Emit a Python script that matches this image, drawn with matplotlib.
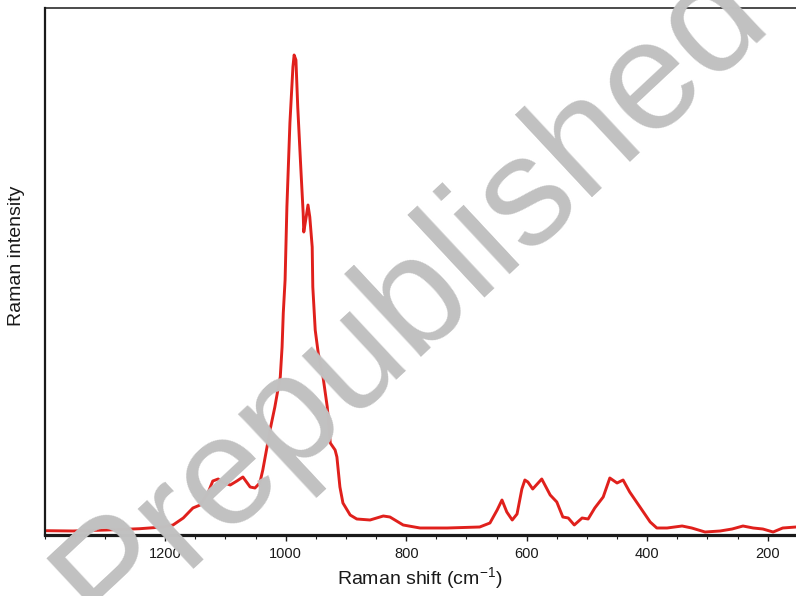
import matplotlib
matplotlib.use("Agg")
import matplotlib.pyplot as plt
from matplotlib.ticker import MultipleLocator

plt.rcParams['font.family'] = ['Liberation Sans', 'DejaVu Sans']
plt.rcParams['mathtext.default'] = 'regular'

# Raman shift (cm^-1) and intensity (arbitrary units)
wavenumber = [1397, 1353, 1297, 1242, 1204, 1187, 1170, 1154, 1142, 1129,
              1121, 1112, 1106, 1092, 1081, 1071, 1059, 1051, 1043, 1038,
              1031, 1026, 1018, 1013, 1009, 1006, 1004, 1001, 998, 993,
              988, 986, 983, 980, 975, 971, 970, 966, 963, 960,
              956, 955, 951, 946, 938, 931, 926, 918, 915, 910,
              905, 898, 893, 882, 860, 838, 827, 805, 777, 732,
              678, 661, 649, 641, 633, 624, 616, 608, 603, 598,
              590, 575, 561, 550, 540, 531, 521, 508, 498, 487,
              473, 462, 450, 440, 429, 412, 395, 384, 367, 342,
              326, 304, 279, 259, 241, 224, 208, 191, 175, 153]
intensity = [4.3, 4, 5, 6.3, 8, 10, 17, 27, 30, 42,
             54, 56, 53, 50, 54, 58, 48, 47, 52, 65,
             88, 105, 128, 145, 158, 188, 222, 255, 328, 412,
             468, 480, 475, 428, 368, 322, 303, 318, 330, 318,
             288, 248, 205, 182, 158, 128, 92, 85, 78, 48,
             32, 25, 20, 16, 15, 19, 18, 10, 7, 7,
             8, 12, 25, 35, 23, 15, 21, 46, 55, 53,
             46, 56, 40, 33, 18, 17, 10, 17, 16, 27,
             38, 57, 52, 55, 43, 28, 13, 7, 7, 9,
             7, 3, 4, 6, 9, 7, 6, 3, 7, 8]

x_ticks = [1200, 1000, 800, 600, 400, 200]
x_label = "Raman shift (cm$^{-1}$)"
y_label = "Raman intensity"
watermark = "Prepublished"

fig = plt.figure(figsize=(7.96, 5.96), dpi=100)
ax = fig.add_axes([44.7 / 796, 1 - 535 / 596, 753.1 / 796, 527 / 596])

ax.plot(wavenumber, intensity, color='#e0201c', lw=2.1,
        solid_joinstyle='round', solid_capstyle='round')

ax.set_xlim(1400, 150)
ax.set_ylim(0, 527)

ax.set_xticks(x_ticks)
ax.xaxis.set_minor_locator(MultipleLocator(50))
ax.set_yticks([])
ax.tick_params(axis='x', which='major', direction='out', length=4, width=1,
               pad=5, labelsize=10.5, colors='#1a1a1a')
ax.tick_params(axis='x', which='minor', direction='out', length=3, width=0.8,
               colors='#1a1a1a')

for side, w in [('left', 1.6), ('top', 1.1), ('bottom', 2.3)]:
    ax.spines[side].set_linewidth(w)
    ax.spines[side].set_color('#1a1a1a')
ax.spines['right'].set_visible(False)

ax.set_xlabel(x_label, fontsize=14, va='center', color='#1a1a1a')
ax.xaxis.set_label_coords(0.4984, -0.0816)
ax.set_ylabel(y_label, fontsize=14, va='center', color='#1a1a1a')
ax.yaxis.set_label_coords(-0.0368, 0.529)

fig.text(412 / 796, 1 - 298 / 596, watermark, fontsize=112, color='#c1c1c1',
         rotation=43, rotation_mode='anchor', ha='center', va='center',
         zorder=10)

fig.savefig("out.png", dpi=100)
